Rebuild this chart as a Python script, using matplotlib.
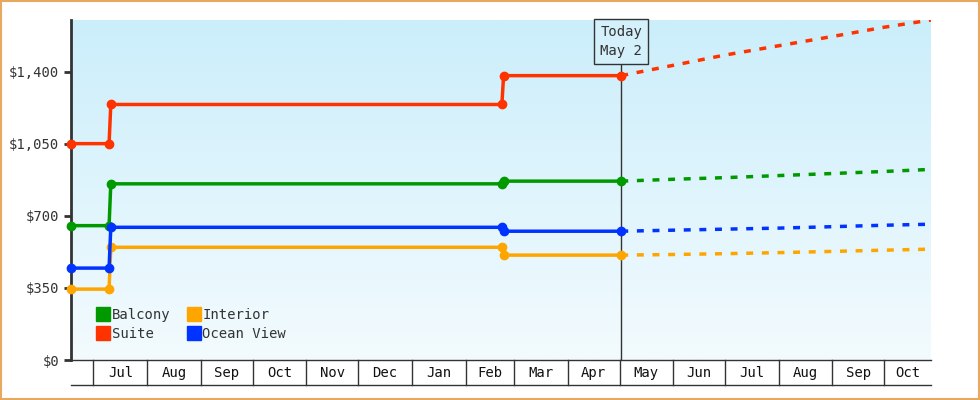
import matplotlib
matplotlib.use("Agg")
import matplotlib.pyplot as plt
import matplotlib.dates as mdates
import numpy as np
from datetime import date

plt.rcParams['font.family'] = ['DejaVu Sans Mono']

# history (step points) and projections
hist_dates = ["2022-06-18", "2022-07-10", "2022-07-11", "2023-02-22", "2023-02-23", "2023-05-02"]
suite_hist = [1050, 1050, 1240, 1240, 1380, 1380]
balcony_hist = [652, 652, 855, 855, 868, 868]
ocean_hist = [446, 446, 644, 644, 625, 625]
interior_hist = [344, 344, 547, 547, 509, 509]

proj_dates = ["2023-05-02", "2023-06-01", "2023-07-01", "2023-08-01", "2023-09-01", "2023-10-01", "2023-10-28"]
suite_proj = [1380, 1430, 1480, 1525, 1570, 1615, 1650]
balcony_proj = [868, 877, 885, 895, 905, 915, 925]
ocean_proj = [625, 630, 635, 640, 647, 654, 659]
interior_proj = [509, 512, 516, 521, 527, 533, 538]

month_labels = ["Jul", "Aug", "Sep", "Oct", "Nov", "Dec", "Jan", "Feb", "Mar", "Apr", "May", "Jun", "Jul", "Aug", "Sep", "Oct"]
month_starts = ["2022-07-01", "2022-08-01", "2022-09-01", "2022-10-01", "2022-11-01", "2022-12-01", "2023-01-01",
                "2023-02-01", "2023-03-01", "2023-04-01", "2023-05-01", "2023-06-01", "2023-07-01", "2023-08-01",
                "2023-09-01", "2023-10-01"]
y_ticks = [0, 350, 700, 1050, 1400]
today = "2023-05-02"

def d(s):
    return mdates.date2num(date.fromisoformat(s))

hx = [d(s) for s in hist_dates]
px = [d(s) for s in proj_dates]
ms = [d(s) for s in month_starts]
x0, x1 = d("2022-06-18"), d("2023-10-28")

fig = plt.figure(figsize=(9.8, 4.0), dpi=100)
fig.patch.set_facecolor("white")
fig.patches.append(plt.Rectangle((0.001, 0.002), 0.998, 0.996, transform=fig.transFigure,
                                 fill=False, edgecolor="#e8a860", linewidth=1.5))
ax = fig.add_axes([71/980, 40/400, 860/980, 340/400])
ax.set_xlim(x0, x1)
ax.set_ylim(0, 1650)

# gradient background
grad = np.linspace(0, 1, 256).reshape(-1, 1)
from matplotlib.colors import LinearSegmentedColormap
cmap = LinearSegmentedColormap.from_list("bg", ["#f3fbfe", "#cbeefb"])
ax.imshow(grad, extent=[x0, x1, 0, 1650], origin="lower", aspect="auto", cmap=cmap, zorder=0)

series = [("Balcony", "#009900", balcony_hist, balcony_proj),
          ("Suite", "#ff3300", suite_hist, suite_proj),
          ("Interior", "#ffa500", interior_hist, interior_proj),
          ("Ocean View", "#0033ff", ocean_hist, ocean_proj)]
for name, c, h, p in series:
    ax.plot(hx, h, color=c, lw=2.5, marker="o", ms=6, zorder=3, label=name, clip_on=False)
    ax.plot(px, p, color=c, lw=2.5, ls=(0, (2, 2.5)), zorder=3)

# today line and box
t = d(today)
ax.axvline(t, ymax=1450/1650, color="#333333", lw=1, zorder=2)
ax.text(t, 1545, "Today\nMay 2", ha="center", va="center", fontsize=10, color="#333333", linespacing=1.4,
        bbox=dict(boxstyle="square,pad=0.45", fc="#d4f1fb", ec="#333333", lw=1), zorder=4)

# axes styling
for s in ["top", "right"]:
    ax.spines[s].set_visible(False)
ax.spines["left"].set_linewidth(2)
ax.spines["left"].set_color("#333333")
ax.spines["bottom"].set_linewidth(1)
ax.spines["bottom"].set_color("#333333")
ax.set_yticks(y_ticks)
ax.set_yticklabels(["$0", "$350", "$700", "$1,050", "$1,400"])
ax.tick_params(axis="y", length=5, width=2, color="#333333", labelsize=10, labelcolor="#333333")
ax.set_xticks([])

# month cells below the axis
trans = ax.get_xaxis_transform()
edges = ms + [x1]
for i, m in enumerate(ms):
    ax.plot([m, m], [0, -25/340], transform=trans, color="#333333", lw=1, clip_on=False)
    ax.text((edges[i] + edges[i + 1]) / 2, -13/340, month_labels[i], transform=trans, ha="center", va="center",
            fontsize=10, color="#111111")
ax.plot([x0, x1], [-25/340, -25/340], transform=trans, color="#333333", lw=1, clip_on=False)

from matplotlib.lines import Line2D
handles = [Line2D([], [], marker="s", ls="", color=c, ms=10) for _, c, _, _ in series]
leg = ax.legend(handles, [s[0] for s in series], loc="lower left", ncol=2, frameon=False, fontsize=10,
                bbox_to_anchor=(0.015, 0.02), handletextpad=0.1, columnspacing=1.2, labelspacing=0.35,
                handlelength=1.0)
for tx in leg.get_texts():
    tx.set_color("#333333")

fig.savefig("out.png", dpi=100)
